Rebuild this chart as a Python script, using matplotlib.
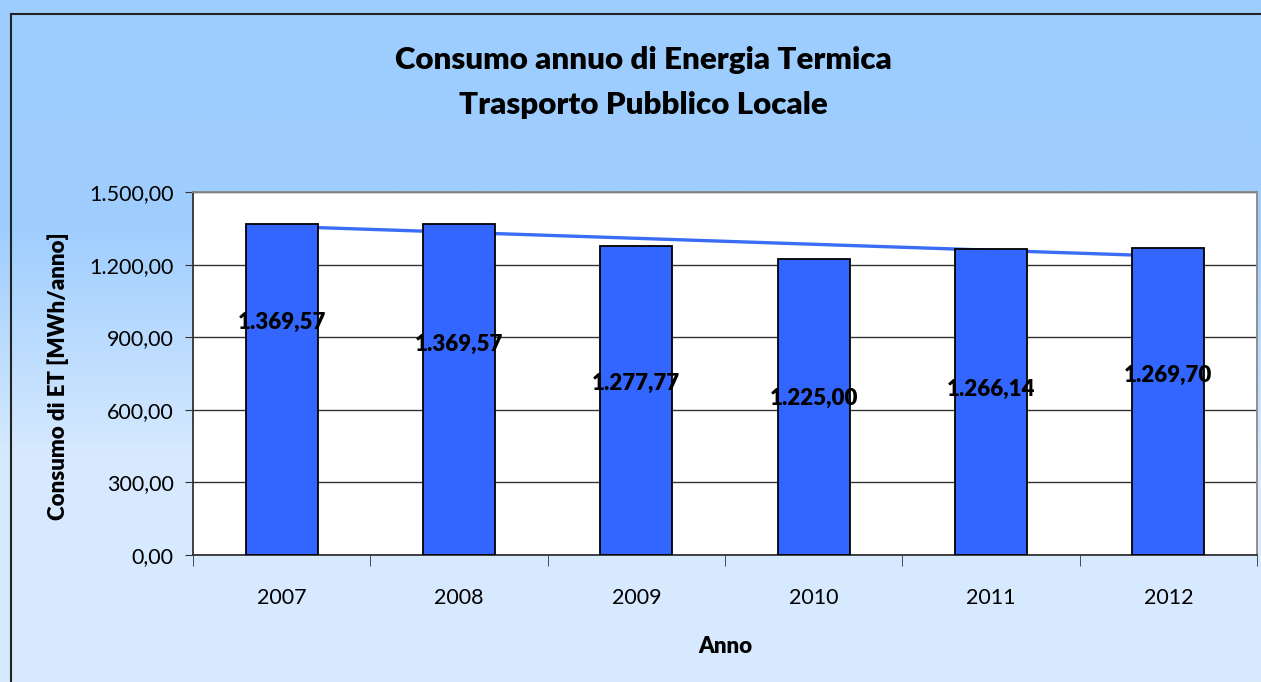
import numpy as np
import matplotlib.pyplot as plt
from matplotlib.colors import LinearSegmentedColormap
from matplotlib.lines import Line2D

plt.rcParams['font.family'] = ['Lato', 'DejaVu Sans']

years = ['2007', '2008', '2009', '2010', '2011', '2012']
consumo = [1369.57, 1369.57, 1277.77, 1225.00, 1266.14, 1269.70]
label_text = ['1.369,57', '1.369,57', '1.277,77', '1.225,00', '1.266,14', '1.269,70']
# heights (data units) where Excel left the value labels
label_y = [963, 872, 707, 649, 686, 744]
yticks = [0, 300, 600, 900, 1200, 1500]
ytick_labels = ['0,00', '300,00', '600,00', '900,00', '1.200,00', '1.500,00']

W, H = 1261, 682
fig = plt.figure(figsize=(W / 100, H / 100), dpi=100)
fig.patch.set_facecolor('#D8EAFE')

cmap = LinearSegmentedColormap.from_list('bg', ['#9DCDFE', '#9FCEFE', '#D6E9FE', '#D8EAFE'])
grad = np.linspace(0, 1, 256).reshape(-1, 1)

# gradient background
bg = fig.add_axes([0, 0, 1, 1], zorder=-10)
bg.imshow(grad, aspect='auto', cmap=cmap, extent=[0, 1, 0, 1], origin='upper')
bg.set_xlim(0, 1)
bg.set_ylim(0, 1)
bg.axis('off')

# outer chart frame: only its left and top edges fall inside the picture
fx, fy = 10.5 / W, 1 - 13.5 / H
fig.lines.append(Line2D([fx, fx], [0, fy], transform=fig.transFigure, color='#222222', linewidth=1.5))
fig.lines.append(Line2D([fx, 1], [fy, fy], transform=fig.transFigure, color='#222222', linewidth=1.5))

ax = fig.add_axes([193 / W, 127 / H, 1064 / W, 363 / H])
x = np.arange(len(years))
ax.bar(x, consumo, width=0.405, color='#3366FF', edgecolor='black', linewidth=1.3, zorder=3)

# linear trend
coef = np.polyfit(x, consumo, 1)
ax.plot(x, np.polyval(coef, x), color='#3A6CF5', linewidth=2.4, zorder=2)

for xi, yl, t in zip(x, label_y, label_text):
    ax.text(xi, yl, t, ha='center', va='center', fontsize=16, fontweight='heavy', zorder=4)

ax.set_xlim(-0.5, len(years) - 0.5)
ax.set_ylim(0, 1500)
ax.set_yticks(yticks)
ax.set_yticklabels(ytick_labels, fontsize=15.5)
ax.yaxis.grid(True, color='#333333', linewidth=1, zorder=1)
ax.set_axisbelow(True)

ax.set_xticks(x)
ax.set_xticklabels(years, fontsize=15.5)
ax.tick_params(axis='x', length=0, pad=24)
ax.set_xticks(np.arange(-0.5, len(years), 1), minor=True)
ax.tick_params(axis='x', which='minor', length=8, direction='out', color='#333333')
ax.tick_params(axis='y', length=6, direction='out', color='#333333', pad=8)

for s in ['top', 'right']:
    ax.spines[s].set_color('#888888')
    ax.spines[s].set_linewidth(1.3)
for s in ['left', 'bottom']:
    ax.spines[s].set_color('#333333')
    ax.spines[s].set_linewidth(1.3)

ax.set_ylabel('Consumo di ET [MWh/anno]', fontsize=16, fontweight='heavy')
ax.yaxis.set_label_coords(-0.117, 0.493)
ax.set_xlabel('Anno', fontsize=16, fontweight='heavy', labelpad=20)

fig.text(643 / W, 1 - 60 / H, 'Consumo annuo di Energia Termica', ha='center', va='center',
         fontsize=22.5, fontweight='heavy')
fig.text(643 / W, 1 - 105 / H, 'Trasporto Pubblico Locale', ha='center', va='center',
         fontsize=22.5, fontweight='heavy')

# thin strip of background over the far right column
edge = fig.add_axes([1259 / W, 0, 2.5 / W, 1 - 14.5 / H], zorder=30)
edge.imshow(grad, aspect='auto', cmap=cmap, extent=[0, 1, 0, 1], origin='upper',
            vmin=(14.5 / H), vmax=1)
edge.axis('off')

fig.savefig('out.png', dpi=100)
